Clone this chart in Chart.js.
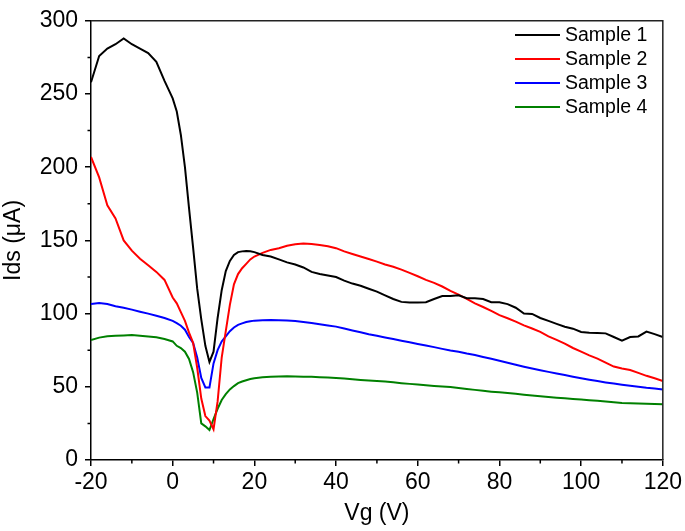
<!DOCTYPE html>
<html>
<head>
<meta charset="utf-8">
<script src="https://cdn.jsdelivr.net/npm/chart.js@4.4.0/dist/chart.umd.min.js"></script>
<style>
  html, body { margin: 0; padding: 0; background: #fff; }
  #wrap { width: 685px; height: 531px; }
</style>
</head>
<body>
<div id="wrap"><canvas id="myChart" width="685" height="531"></canvas></div>
<script>
// gate voltage (V)
var vg = [-20, -18, -16, -14, -12, -10, -8, -6, -4, -2,
    0, 1, 2, 3, 4, 5, 6, 7, 8, 9, 10, 11, 12, 13, 14, 15, 16, 17, 18, 19, 20,
    22, 24, 26, 28, 30, 32, 34, 36, 38, 40, 42, 44, 46, 48, 50, 52, 54, 56, 58, 60,
    62, 64, 66, 68, 70, 72, 74, 76, 78, 80, 82, 84, 86, 88, 90, 92, 94, 96, 98, 100,
    102, 104, 106, 108, 110, 112, 114, 116, 118, 120];

// Ids (uA) per sample
var sample1 = [258, 276, 281, 284, 288, 284, 281, 278, 272, 259,
    247, 238, 222, 200, 172, 145, 117, 96, 78, 67, 74, 97, 116, 129, 136, 140, 142, 142.5, 142.8, 142.6, 142,
    140, 139, 137, 135, 133.5, 131.5, 128.5, 127, 126, 125, 122.5, 120.5, 119, 117, 115, 112.5, 110, 108, 107.5, 107.5,
    107.8, 110, 112, 112, 112.5, 110.5, 110.5, 110, 107.8, 107.8, 106.5, 104, 100, 99.8, 97, 95, 93, 91, 89.7, 87.5,
    87, 86.8, 86.5, 84, 81.5, 84, 84.4, 87.7, 86, 84];
var sample2 = [207, 193, 174, 165, 150, 143, 137.5, 133, 128.5, 123,
    111, 107, 101, 95, 87, 80, 63, 42, 30, 27, 21, 40, 70, 88, 106, 120, 127, 131, 134, 137, 139,
    141.5, 143.5, 144.7, 146.3, 147.3, 147.8, 147.5, 146.9, 146, 144.7, 142.5, 140.7, 139, 137.3, 135.5, 133.5, 132, 130, 127.8, 125.5,
    123, 121, 118.5, 115.5, 113, 110, 107, 104.5, 101.8, 99, 96.8, 94.5, 92, 89.8, 87.5, 84.5, 82, 79.5, 76.5, 74,
    71.5, 69.3, 66.5, 63.8, 62.5, 61.5, 59.5, 57.5, 55.8, 54];
var sample3 = [106.5, 107.2, 106.5, 105, 104, 102.7, 101.3, 100, 98.5, 97,
    95, 93.5, 91.7, 89, 84, 80, 70, 56, 49.6, 49.6, 66, 75, 81, 84.5, 88, 90.5, 92.3, 93.3, 94.2, 94.8, 95.2,
    95.5, 95.6, 95.5, 95.3, 94.9, 94.2, 93.5, 92.7, 91.9, 91.1, 89.8, 88.5, 87.2, 85.9, 84.8, 83.7, 82.6, 81.5, 80.4, 79.3,
    78.2, 77.1, 75.9, 74.8, 73.9, 72.7, 71.7, 70.4, 69.2, 67.8, 66.4, 65, 63.7, 62.5, 61.3, 60.2, 59.1, 58, 56.9, 55.8,
    54.8, 53.9, 53, 52.2, 51.4, 50.7, 50, 49.3, 48.8, 48.2];
var sample4 = [82, 83.6, 84.5, 84.8, 85.1, 85.3, 84.9, 84.4, 83.8, 82.6,
    81, 78, 76.5, 74, 69, 60, 46, 25, 23, 20.5, 28, 35, 41, 45, 48.2, 50.5, 52.5, 53.6, 54.5, 55.3, 55.9,
    56.5, 56.9, 57.1, 57.2, 57.1, 56.9, 56.8, 56.6, 56.3, 56, 55.6, 55.1, 54.7, 54.3, 54, 53.6, 53.1, 52.5, 52, 51.5,
    51, 50.6, 50.2, 49.8, 49.2, 48.5, 47.9, 47.3, 46.7, 46.2, 45.8, 45.2, 44.6, 44, 43.5, 43, 42.6, 42.1, 41.7, 41.3,
    40.8, 40.4, 39.9, 39.5, 39, 38.8, 38.6, 38.4, 38.2, 38];

var seriesNames = ['Sample 1', 'Sample 2', 'Sample 3', 'Sample 4'];
var seriesColors = ['#000000', '#ff0000', '#0000ff', '#008000'];
var xTicks = [-20, 0, 20, 40, 60, 80, 100, 120];
var yTicks = [0, 50, 100, 150, 200, 250, 300];

var FONT = "'Liberation Sans', Arial, sans-serif";

function pts(ys) {
    return vg.map(function(x, i) { return { x: x, y: ys[i] }; });
}

// box, minor ticks and the legend
var extras = {
    id: 'extras',
    afterDraw: function(chart) {
        var ctx = chart.ctx;
        var a = chart.chartArea;
        var xs = chart.scales.x, ys = chart.scales.y;
        ctx.save();
        ctx.strokeStyle = '#222';
        ctx.lineWidth = 1.5;
        ctx.beginPath();
        ctx.moveTo(a.left, a.top);
        ctx.lineTo(a.right, a.top);
        ctx.lineTo(a.right, a.bottom);
        ctx.stroke();

        ctx.strokeStyle = '#000';
        ctx.beginPath();
        for (var v = -10; v < 120; v += 20) {
            var px = xs.getPixelForValue(v);
            ctx.moveTo(px, a.bottom);
            ctx.lineTo(px, a.bottom + 3.5);
        }
        for (var w = 25; w < 300; w += 50) {
            var py = ys.getPixelForValue(w);
            ctx.moveTo(a.left, py);
            ctx.lineTo(a.left - 3.5, py);
        }
        ctx.stroke();

        // legend
        ctx.font = '19.5px ' + FONT;
        ctx.textBaseline = 'middle';
        ctx.textAlign = 'left';
        chart.data.datasets.forEach(function(ds, i) {
            var y = 35 + i * 24;
            ctx.strokeStyle = ds.borderColor;
            ctx.lineWidth = 2;
            ctx.beginPath();
            ctx.moveTo(515, y);
            ctx.lineTo(560, y);
            ctx.stroke();
            ctx.fillStyle = '#000';
            ctx.fillText(ds.label, 565, y + 1);
        });
        ctx.restore();
    }
};

var series = [sample1, sample2, sample3, sample4];

var myChart = new Chart(document.getElementById('myChart').getContext('2d'), {
    type: 'line',
    data: {
        datasets: series.map(function(s, i) {
            return {
                label: seriesNames[i],
                data: pts(s),
                borderColor: seriesColors[i],
                backgroundColor: seriesColors[i],
                borderWidth: 2,
                pointRadius: 0,
                tension: 0,
                fill: false
            };
        })
    },
    options: {
        responsive: false,
        animation: false,
        events: [],
        layout: { padding: { top: 12, right: 20, left: 0, bottom: 0 } },
        plugins: { legend: { display: false }, tooltip: { enabled: false } },
        scales: {
            x: {
                type: 'linear',
                min: -20, max: 120,
                afterBuildTicks: function(s) { s.ticks = xTicks.map(function(v) { return { value: v }; }); },
                afterFit: function(s) { s.height = 71; },
                ticks: { color: '#000', font: { family: FONT, size: 23 }, padding: 3, maxRotation: 0 },
                grid: { drawOnChartArea: false, tickLength: 6, color: '#000', lineWidth: 1.5 },
                border: { color: '#000', width: 1.5 },
                title: { display: true, text: 'Vg (V)', color: '#000', font: { family: FONT, size: 23 }, padding: { top: 0, bottom: 4 } }
            },
            y: {
                min: 0, max: 300,
                afterBuildTicks: function(s) { s.ticks = yTicks.map(function(v) { return { value: v }; }); },
                afterFit: function(s) { s.width = 91; },
                ticks: { color: '#000', font: { family: FONT, size: 23 }, padding: 7 },
                grid: { drawOnChartArea: false, tickLength: 6, color: '#000', lineWidth: 1.5 },
                border: { color: '#000', width: 1.5 },
                title: { display: true, text: 'Ids (\u03bcA)', color: '#000', font: { family: FONT, size: 23 }, padding: { top: 0, bottom: 2 } }
            }
        }
    },
    plugins: [extras]
});
</script>
</body>
</html>
